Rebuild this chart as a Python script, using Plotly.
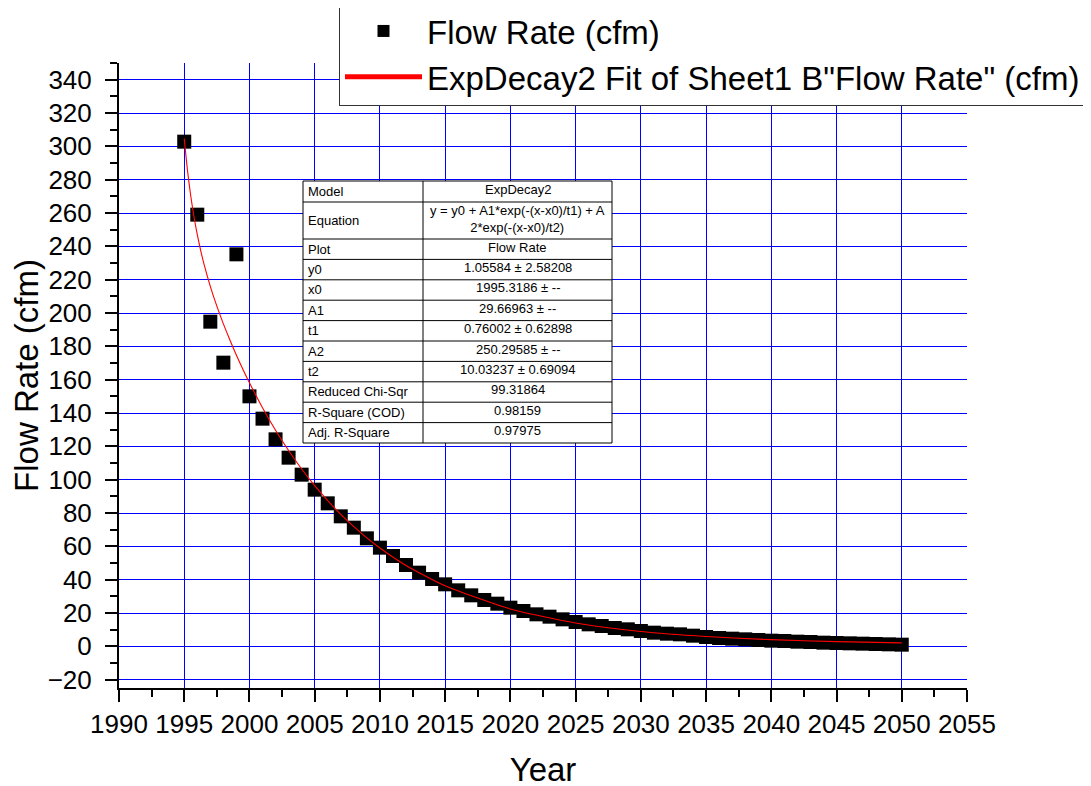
import plotly.graph_objects as go

# ---------------- data ----------------
years = list(range(1995, 2051))
flow_rate = [302.8, 259.0, 194.8, 170.2, 235.2, 150.0, 136.6, 124.2, 113.2, 103.0,
             94.0, 85.8, 78.0, 71.2, 64.8, 59.2, 54.2, 48.8, 44.2, 40.4,
             37.2, 33.6, 30.6, 27.8, 25.6, 23.2, 21.2, 19.2, 17.8, 16.2,
             14.6, 13.2, 12.2, 11.0, 10.2, 9.2, 8.2, 7.6, 7.2, 6.4,
             5.6, 5.0, 4.6, 4.2, 3.8, 3.4, 3.2, 2.8, 2.6, 2.2,
             2.0, 1.8, 1.6, 1.4, 1.2, 1.0]

fit_years = [1995, 1995.25, 1995.5, 1995.75, 1996, 1996.25, 1996.5, 1997, 1997.5,
             1998, 1998.5, 1999, 2000, 2001, 2002, 2003, 2004, 2005, 2006, 2007,
             2008, 2009, 2010, 2012, 2015, 2020, 2025, 2030, 2035, 2040, 2045, 2050]
fit_values = [304.6, 285.5, 270.2, 257.6, 247.0, 237.9, 229.8, 216.0, 204.1,
              193.5, 183.8, 174.7, 158.1, 143.2, 129.7, 117.5, 106.4, 96.4, 87.4, 79.2,
              71.8, 65.1, 59.0, 48.5, 36.3, 22.4, 14.0, 8.9, 5.9, 4.0, 2.8, 2.1]

table_labels = ["Model", "Equation", "Plot", "y0", "x0", "A1", "t1", "A2", "t2",
                "Reduced Chi-Sqr", "R-Square (COD)", "Adj. R-Square"]
table_values = ["ExpDecay2",
                "y = y0 + A1*exp(-(x-x0)/t1) + A<br>2*exp(-(x-x0)/t2)",
                "Flow Rate", "1.05584 ± 2.58208", "1995.3186 ± --", "29.66963 ± --",
                "0.76002 ± 0.62898", "250.29585 ± --", "10.03237 ± 0.69094",
                "99.31864", "0.98159", "0.97975"]

series_names = ["Flow Rate (cfm)", 'ExpDecay2 Fit of Sheet1 B"Flow Rate" (cfm)']
x_title = "Year"
y_title = "Flow Rate (cfm)"

# ---------------- geometry (page pixels, page has an 8px body margin) ----------------
W, H = 1091, 786
OFF = 8
L, R, T, B = 119 - OFF, 967 - OFF, 63 - OFF, 688 - OFF
FONT = "Liberation Sans, Arial, sans-serif"


def px_x(p):
    return (p - OFF - L) / (R - L)


def px_y(p):
    return (B - (p - OFF)) / (B - T)


fig = go.Figure()
fig.add_trace(go.Scatter(
    x=years, y=flow_rate, mode="markers", name=series_names[0],
    legendgroup="a",
    marker=dict(symbol="square", size=14, color="black", line=dict(width=0)),
))
fig.add_trace(go.Scatter(
    x=fit_years, y=fit_values, mode="lines", name=series_names[1],
    legendgroup="b",
    line=dict(color="red", width=1.1, shape="spline", smoothing=0.6),
))

# ---------------- table (shapes + annotations) ----------------
tab_left, tab_right, tab_div, tab_top = 303, 612, 423, 181
row_h = [21, 37] + [20.4] * (len(table_labels) - 2)
shapes = []
annotations = []
total_h = sum(row_h)
shapes.append(dict(type="rect", xref="paper", yref="paper", layer="above",
                   x0=px_x(tab_left), x1=px_x(tab_right),
                   y0=px_y(tab_top + total_h), y1=px_y(tab_top),
                   fillcolor="white", line=dict(color="black", width=1)))
shapes.append(dict(type="line", xref="paper", yref="paper", layer="above",
                   x0=px_x(tab_div), x1=px_x(tab_div),
                   y0=px_y(tab_top + total_h), y1=px_y(tab_top),
                   line=dict(color="black", width=1)))
y = tab_top
for i, (lab, val) in enumerate(zip(table_labels, table_values)):
    h = row_h[i]
    if i > 0:
        shapes.append(dict(type="line", xref="paper", yref="paper", layer="above",
                           x0=px_x(tab_left), x1=px_x(tab_right),
                           y0=px_y(y), y1=px_y(y),
                           line=dict(color="black", width=1)))
    cy = y + h / 2
    annotations.append(dict(xref="paper", yref="paper", x=px_x(tab_left + 3), y=px_y(cy),
                            text=lab, showarrow=False, xanchor="left", yanchor="middle",
                            font=dict(family=FONT, size=13, color="black")))
    annotations.append(dict(xref="paper", yref="paper", x=px_x((tab_div + tab_right) / 2),
                            y=px_y(cy - 2), text=val, showarrow=False,
                            xanchor="center", yanchor="middle",
                            font=dict(family=FONT, size=13, color="black")))
    y += h

axis_common = dict(
    showline=True, linecolor="black", linewidth=2,
    ticks="outside", ticklen=12, tickwidth=2, tickcolor="black",
    showgrid=True, gridcolor="#0000FF", gridwidth=1,
    zeroline=False, mirror=False,
    tickfont=dict(family=FONT, size=26, color="black"),
)

fig.update_layout(
    width=W, height=H,
    paper_bgcolor="white", plot_bgcolor="white",
    font=dict(family=FONT, color="black"),
    margin=dict(l=L, r=W - R, t=T, b=H - B, autoexpand=False),
    xaxis=dict(range=[1990, 2055], tick0=1990, dtick=5,
               title=dict(text=x_title, font=dict(family=FONT, size=33), standoff=20),
               minor=dict(dtick=2.5, ticks="outside", ticklen=7, tickwidth=2,
                          tickcolor="black", showgrid=False),
               **axis_common),
    yaxis=dict(range=[-25, 350], tick0=0, dtick=20, ticklabelstandoff=8,
               title=dict(text=y_title, font=dict(family=FONT, size=33), standoff=5),
               minor=dict(dtick=10, ticks="outside", ticklen=7, tickwidth=2,
                          tickcolor="black", showgrid=False),
               **axis_common),
    legend=dict(x=px_x(339), y=px_y(2), xanchor="left", yanchor="top",
                font=dict(family=FONT, size=33, color="black"),
                bgcolor="white", bordercolor="#333333", borderwidth=1,
                traceorder="grouped", tracegroupgap=0, itemsizing="constant",
                itemwidth=77),
    showlegend=True,
    shapes=shapes,
    annotations=annotations,
)

fig.write_html("out.html")
